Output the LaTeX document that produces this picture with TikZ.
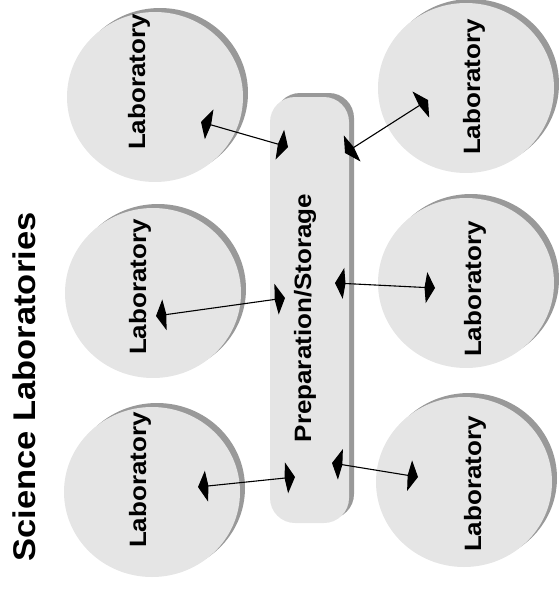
\documentclass[tikz,border=0pt]{standalone}
\usepackage{fontspec}
\setmainfont{Liberation Sans}
\usetikzlibrary{shapes.geometric, shadows, arrows.meta}
\definecolor{roomfill}{HTML}{E5E5E5}
\definecolor{roomshade}{HTML}{999999}
% вужчі літери для повернутих підписів
\newcommand{\squash}[1]{\scalebox{1}[0.91]{#1}}

\begin{document}
\begin{tikzpicture}[x=1pt, y=-1pt,
    shade/.style={drop shadow={shadow xshift=5pt, shadow yshift=4pt, fill=roomshade, opacity=1}},
    room/.style={ellipse, fill=roomfill, shade, inner sep=0pt,
      minimum width=176pt, minimum height=170pt},
    roomtext/.style={rotate=90, inner sep=0pt, font=\fontsize{26}{30}\selectfont\bfseries},
    link/.style={{Kite[length=10.5pt, width=31pt, inset=2pt]}-{Kite[length=10.5pt, width=31pt, inset=2pt]},
      line width=1.1pt}]
      \useasboundingbox (0,0) rectangle (559,592);

      % Лабораторії зліва і справа
      \node[room] (lab1) at (155,97) {};
      \node[room] (lab2) at (466,88) {};
      \node[room] (lab3) at (153,293) {};
      \node[room] (lab4) at (466,283) {};
      \node[room] (lab5) at (152,492) {};
      \node[room] (lab6) at (464,482) {};

      \node[roomtext] (lab1txt) at (139,82) {\squash{Laboratory}};
      \node[roomtext] (lab2txt) at (474,87) {\squash{Laboratory}};
      \node[roomtext] (lab3txt) at (140,287) {\squash{Laboratory}};
      \node[roomtext] (lab4txt) at (475,289) {\squash{Laboratory}};
      \node[roomtext] (lab5txt) at (140,480) {\squash{Laboratory}};
      \node[roomtext] (lab6txt) at (475,484) {\squash{Laboratory}};

      % Препараторська / склад посередині
      \node[rectangle, rounded corners=25pt, fill=roomfill, shade,
        minimum width=79pt, minimum height=426pt] (prep) at (309.5,310) {};
      \node[roomtext] (preptxt) at (305,318) {\squash{Preparation/Storage}};

      % Заголовок
      \node[roomtext, font=\fontsize{34.5}{40}\selectfont\bfseries] (title) at (24,387)
        {\squash{Science Laboratories}};

      % Кінці стрілок
      \coordinate (l1) at (201,122);  \coordinate (p1) at (288,147);
      \coordinate (l2) at (428,100);  \coordinate (p2) at (345,153);
      \coordinate (l3) at (156,316);  \coordinate (p3) at (285,298);
      \coordinate (l4) at (435,288);  \coordinate (p4) at (335,283);
      \coordinate (l5) at (198,487);  \coordinate (p5) at (295,477);
      \coordinate (l6) at (418,477);  \coordinate (p6) at (332,463);

      \foreach \i in {1,...,6}
        \draw[link] (l\i) -- (p\i);
\end{tikzpicture}
\end{document}
